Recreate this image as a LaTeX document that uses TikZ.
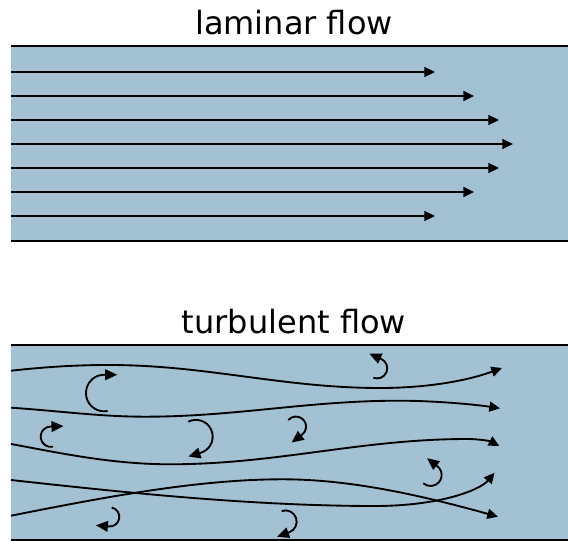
\documentclass[tikz,border=0pt]{standalone}
\usepackage{fontspec}
\setmainfont{DejaVu Sans}
\usepackage{tikz}
\usetikzlibrary{arrows.meta}
\definecolor{pipeblue}{RGB}{162,193,211}
\tikzset{
  % --- Pipe ---------------------------------------------------
  pipe/.style={fill=pipeblue, draw=none},
  wall/.style={line width=1.4pt},
  ttl/.style={font=\fontsize{24}{28}\selectfont, anchor=base},
  % --- Stream lines and eddies --------------------------------
  flow/.style={-{Triangle[length=8pt, width=7.5pt]}, line width=1.4pt},
  eddyarr/.style={-{Triangle[length=9pt, width=8pt]}, line width=1.4pt}
}
% eddy: start, start angle, end angle, radius, direction of the tip
\newcommand{\eddy}[5]{%
  \draw[eddyarr] (#1) arc[start angle=#2, end angle=#3, radius=#4] -- ++(#5:13);}

\begin{document}
\begin{tikzpicture}[x=0.75pt, y=-0.75pt]
  \useasboundingbox (0,0) rectangle (568,541);

  % ---------- Laminar ----------
  \node[ttl] (tlam) at (294,34.3) {laminar flow};
  \fill[pipe] (11,46) rectangle (568,241);
  \draw[wall] (11,46) -- (568,46);
  \draw[wall] (11,241) -- (568,241);

  \draw[flow] (11,72) -- (435,72);
  \draw[flow] (11,96) -- (474,96);
  \draw[flow] (11,120) -- (499,120);
  \draw[flow] (11,144) -- (513,144);
  \draw[flow] (11,168) -- (499,168);
  \draw[flow] (11,192) -- (474,192);
  \draw[flow] (11,216) -- (435,216);

  % ---------- Turbulent ----------
  \node[ttl] (tturb) at (294,333.3) {turbulent flow};
  \fill[pipe] (11,345) rectangle (568,540);
  \draw[wall] (11,345) -- (568,345);
  \draw[wall] (11,540) -- (568,540);

  \draw[flow] (11,370.7) .. controls (45,367) and (75,365) .. (109,365)
    .. controls (206.6,365) and (282.4,388) .. (380,388)
    .. controls (420,388) and (462,382.6) .. (502,368);
  \draw[flow] (11,407.7) .. controls (60,411) and (100,416.7) .. (145,416.7)
    .. controls (236.3,416.7) and (307.3,400.7) .. (398.6,400.7)
    .. controls (435,400.7) and (475,404.5) .. (500,408.3);
  \draw[flow] (11,444) .. controls (55,452) and (110,464.3) .. (170,464.3)
    .. controls (277,464.3) and (360.4,439) .. (467.4,439)
    .. controls (478,439) and (490,441) .. (499.3,446);
  \draw[flow] (11,480) .. controls (120,492) and (250,506) .. (375,506)
    .. controls (440,506) and (480,490) .. (494.6,472.7);
  \draw[flow] (11,515.7) .. controls (110,496) and (200,479.3) .. (282.6,479.3)
    .. controls (350,479.3) and (420,495) .. (498,516.7);

  % eddies
  \eddy{373.3,377.7}{112}{-66}{10.16}{-156}
  \eddy{107.7,411}{79}{270}{18.3}{0}
  \eddy{53,446.7}{78}{268}{10.2}{-2}
  \eddy{188.3,421.7}{-117}{73}{16.8}{163}
  \eddy{288.3,420}{-139}{53}{10.1}{143}
  \eddy{423.3,483.3}{131}{-52}{11.07}{-142}
  \eddy{111.7,507.5}{-78}{95}{9.6}{185}
  \eddy{281.7,511}{-109}{70}{11.3}{160}

\end{tikzpicture}
\end{document}
